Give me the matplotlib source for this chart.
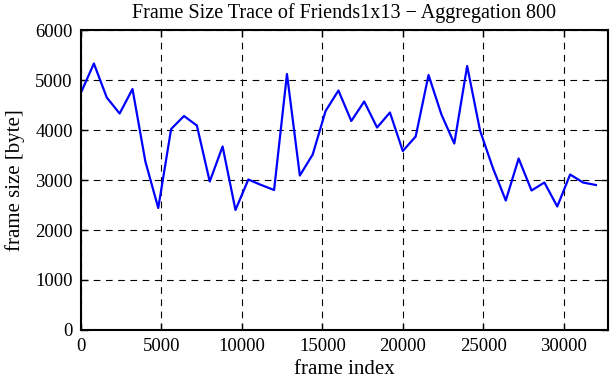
import numpy as np
import matplotlib
matplotlib.use("Agg")
import matplotlib.pyplot as plt

# aggregated frame sizes, one value every 800 frames
AGGREGATION = 800
frame_size = [4750, 5330, 4650, 4330, 4820, 3370, 2440, 4020, 4280, 4090,
              2970, 3670, 2400, 3010, 2900, 2800, 5120, 3090, 3510, 4380,
              4790, 4180, 4570, 4050, 4350, 3580, 3870, 5100, 4310, 3730,
              5280, 3990, 3240, 2590, 3430, 2790, 2950, 2470, 3110, 2950,
              2900]
frame_index = np.arange(len(frame_size)) * AGGREGATION

x_ticks = [0, 5000, 10000, 15000, 20000, 25000, 30000]
y_ticks = [0, 1000, 2000, 3000, 4000, 5000, 6000]

plt.rcParams['font.family'] = ['Liberation Serif', 'DejaVu Serif']
plt.rcParams['font.size'] = 13.5

fig = plt.figure(figsize=(6.11, 3.80), dpi=100)
ax = fig.add_axes([0.1326, 0.1316, 0.8624, 0.7894])

ax.plot(frame_index, frame_size, color='#0000ff', lw=1.6)

ax.set_xlim(0, 32750)
ax.set_ylim(0, 6000)
ax.set_xticks(x_ticks)
ax.set_yticks(y_ticks)
ax.grid(True, color='black', linestyle=(0, (6, 5)), lw=0.8)
ax.tick_params(direction='in', top=True, right=True, length=5, width=1, pad=6)
for s in ax.spines.values():
    s.set_linewidth(1.5)

ax.set_xlabel('frame index', fontsize=15, labelpad=3.5)
ax.set_ylabel('frame size [byte]', fontsize=15, labelpad=7)
ax.set_title('Frame Size Trace of Friends1x13 \u2212 Aggregation 800',
             fontsize=14.5, pad=9)

fig.savefig('out.png', dpi=100)
